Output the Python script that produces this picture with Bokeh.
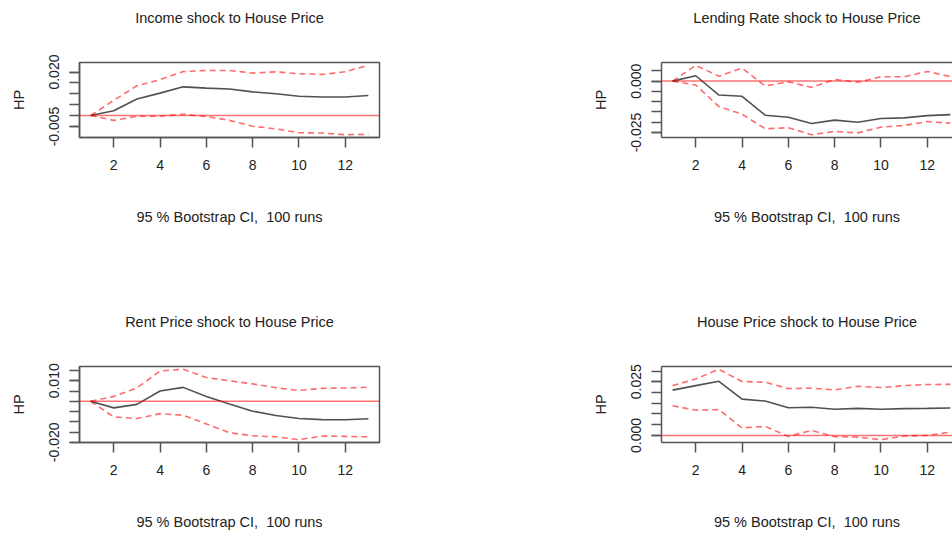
from bokeh.plotting import figure
from bokeh.layouts import column, row
from bokeh.models import Range1d, FixedTicker, PrintfTickFormatter, LinearAxis, Span
from bokeh.embed import file_html
from bokeh.resources import INLINE

# Impulse-response horizon (periods)
horizon = list(range(1, 14))
x_ticks = [2, 4, 6, 8, 10, 12]

# Income shock -> House Price
income_irf = [0.0, 0.0022, 0.0076, 0.0103, 0.0132, 0.0126, 0.0122, 0.0109, 0.0100, 0.0089, 0.0085, 0.0085, 0.0092]
income_upper = [0.0, 0.0070, 0.0137, 0.0165, 0.0202, 0.0207, 0.0207, 0.0195, 0.0201, 0.0192, 0.0189, 0.0201, 0.0231]
income_lower = [0.0, -0.0022, -0.0003, -0.0003, 0.0006, -0.0004, -0.0022, -0.0049, -0.0061, -0.0079, -0.0080, -0.0088, -0.0086]
income_yticks = [-0.005, 0.0, 0.005, 0.010, 0.015, 0.020]
income_ylabels = [-0.005, 0.020]

# Lending Rate shock -> House Price
lending_irf = [0.0, 0.0026, -0.0068, -0.0074, -0.0166, -0.0176, -0.0206, -0.0190, -0.0200, -0.0182, -0.0179, -0.0168, -0.0163]
lending_upper = [0.0, 0.0077, 0.0024, 0.0063, -0.0024, -0.0003, -0.0031, 0.0008, -0.0006, 0.0021, 0.0021, 0.0047, 0.0022]
lending_lower = [0.0, -0.0019, -0.0124, -0.0161, -0.0232, -0.0227, -0.0261, -0.0245, -0.0252, -0.0224, -0.0216, -0.0197, -0.0205]
lending_yticks = [-0.025, -0.020, -0.015, -0.010, -0.005, 0.0, 0.005]
lending_ylabels = [-0.025, 0.0]

# Rent Price shock -> House Price
rent_irf = [0.0, -0.0032, -0.0015, 0.0050, 0.0068, 0.0023, -0.0013, -0.0048, -0.0069, -0.0084, -0.0089, -0.0090, -0.0085]
rent_upper = [0.0, 0.0024, 0.0065, 0.0148, 0.0156, 0.0116, 0.0100, 0.0085, 0.0066, 0.0053, 0.0063, 0.0065, 0.0069]
rent_lower = [0.0, -0.0076, -0.0084, -0.0060, -0.0068, -0.0110, -0.0153, -0.0168, -0.0173, -0.0187, -0.0169, -0.0171, -0.0173]
rent_yticks = [-0.020, -0.015, -0.010, -0.005, 0.0, 0.005, 0.010, 0.015]
rent_ylabels = [-0.020, 0.010]

# House Price shock -> House Price
house_irf = [0.0211, 0.0232, 0.0252, 0.0169, 0.0160, 0.0129, 0.0131, 0.0122, 0.0126, 0.0122, 0.0125, 0.0126, 0.0128]
house_upper = [0.0232, 0.0263, 0.0308, 0.0251, 0.0248, 0.0218, 0.0220, 0.0212, 0.0229, 0.0223, 0.0232, 0.0237, 0.0238]
house_lower = [0.0138, 0.0118, 0.0120, 0.0035, 0.0042, -0.0005, 0.0023, -0.0006, -0.0008, -0.0020, -0.0003, 0.0, 0.0015]
house_yticks = [0.0, 0.005, 0.010, 0.015, 0.020, 0.025, 0.030]
house_ylabels = [0.0, 0.025]

FONT = "Liberation Sans"
TEXT_SIZE = "14.5px"
TICK_SIZE = "14px"
TEXT_COLOR = "#222222"
FRAME_COLOR = "#555555"
SUBTITLE = "95 % Bootstrap CI,\u00a0 100 runs"

PANEL_W = 476
LEFT_FRAME_W = 300
RIGHT_BORDER_L = 185
X_START = 1 - 0.04 * 12
X_END = 13 + 0.04 * 12


def padded(lo, hi, frac=0.04):
    span = hi - lo
    return lo - frac * span, hi + frac * span


def style_axis(ax):
    ax.axis_line_color = FRAME_COLOR
    ax.axis_line_width = 1.5
    ax.major_tick_line_color = FRAME_COLOR
    ax.major_tick_line_width = 1.5
    ax.minor_tick_line_color = FRAME_COLOR
    ax.minor_tick_line_width = 1.5
    ax.major_tick_in = 0
    ax.major_tick_out = 10
    ax.minor_tick_in = 0
    ax.minor_tick_out = 10
    ax.major_label_text_font = FONT
    ax.major_label_text_font_size = TICK_SIZE
    ax.major_label_text_color = TEXT_COLOR
    ax.axis_label_text_font = FONT
    ax.axis_label_text_font_size = TEXT_SIZE
    ax.axis_label_text_font_style = "normal"
    ax.axis_label_text_color = TEXT_COLOR


def make_panel(title, irf, lower, upper, yticks, ylabels, side, height, border_top, border_bottom):
    left = side == "left"
    if left:
        x_range = Range1d(X_START, X_END)
        border_l, border_r = PANEL_W - LEFT_FRAME_W - 97, 97
    else:
        # right-hand column runs past the page edge
        frame_w = PANEL_W - RIGHT_BORDER_L
        x_range = Range1d(X_START, X_START + (X_END - X_START) * frame_w / LEFT_FRAME_W)
        border_l, border_r = RIGHT_BORDER_L, 0

    y0, y1 = padded(min(lower + irf), max(upper + irf))
    p = figure(width=PANEL_W, height=height, output_backend="svg", toolbar_location=None,
               x_range=x_range, y_range=Range1d(y0, y1),
               min_border_left=border_l, min_border_right=border_r,
               min_border_top=border_top, min_border_bottom=border_bottom)
    p.background_fill_color = "white"
    p.border_fill_color = "white"
    p.xgrid.visible = False
    p.ygrid.visible = False

    xa = p.below[0]
    ya = p.left[0]

    if left:
        p.outline_line_color = FRAME_COLOR
        p.outline_line_width = 1.5
        p.outline_line_alpha = 1.0
    else:
        p.outline_line_color = None

    # panel heading carried by a tick-less axis above the frame (its line is the top border)
    top = LinearAxis(ticker=FixedTicker(ticks=[], minor_ticks=[]))
    style_axis(top)
    top.major_tick_out = 0
    top.minor_tick_out = 0
    top.major_label_standoff = 0
    top.axis_line_color = None if left else FRAME_COLOR
    top.axis_label = title
    top.axis_label_standoff = 37
    p.add_layout(top, "above")

    # zero reference line
    p.add_layout(Span(location=0, dimension="width", line_color="red", line_alpha=0.55, line_width=1.5))

    p.line(horizon, upper, line_color="#ff3b3b", line_alpha=0.75, line_width=1.6, line_dash="6 4")
    p.line(horizon, lower, line_color="#ff3b3b", line_alpha=0.75, line_width=1.6, line_dash="6 4")
    p.line(horizon, irf, line_color="#333333", line_alpha=0.85, line_width=1.6)

    style_axis(xa)
    xa.ticker = FixedTicker(ticks=x_ticks, minor_ticks=[])
    xa.major_label_standoff = 12
    xa.axis_label = SUBTITLE
    xa.axis_label_standoff = 36

    style_axis(ya)
    ya.ticker = FixedTicker(ticks=ylabels, minor_ticks=yticks)
    ya.formatter = PrintfTickFormatter(format="%.3f")
    ya.major_label_orientation = "vertical"
    ya.major_label_standoff = 10
    ya.axis_label = "HP"
    ya.axis_label_standoff = 20
    return p


TOP_H, BOT_H = 305, 228
p1 = make_panel("Income shock to House Price", income_irf, income_lower, income_upper,
                income_yticks, income_ylabels, "left", TOP_H, 62, 168)
p2 = make_panel("Lending Rate shock to House Price", lending_irf, lending_lower, lending_upper,
                lending_yticks, lending_ylabels, "right", TOP_H, 62, 168)
p3 = make_panel("Rent Price shock to House Price", rent_irf, rent_lower, rent_upper,
                rent_yticks, rent_ylabels, "left", BOT_H, 61, 91)
p4 = make_panel("House Price shock to House Price", house_irf, house_lower, house_upper,
                house_yticks, house_ylabels, "right", BOT_H, 61, 91)

layout = column(row(p1, p2, spacing=0), row(p3, p4, spacing=0), spacing=0)

open("out.html", "w").write(file_html(layout, INLINE))
